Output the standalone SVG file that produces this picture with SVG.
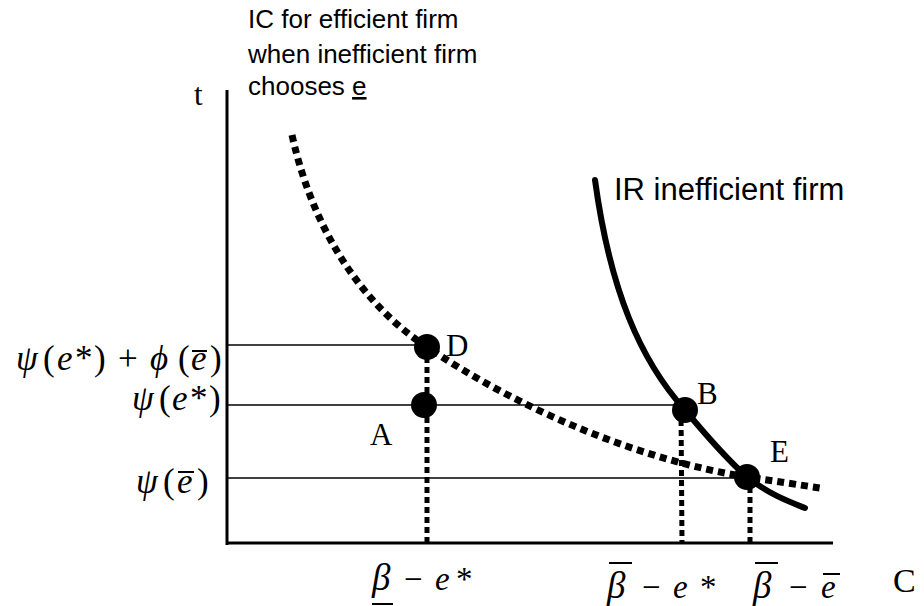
<svg xmlns="http://www.w3.org/2000/svg" width="924" height="606" viewBox="0 0 924 606">
<style>
.sans{font-family:"Liberation Sans",Arial,sans-serif;font-size:26px;fill:#000}
.serif{font-family:"Liberation Serif","Times New Roman",serif;font-size:31px;fill:#000}
.math{font-family:"Liberation Serif","Times New Roman",serif;font-size:35px;fill:#000}
.xm{font-family:"Liberation Serif","Times New Roman",serif;font-size:33px;fill:#000}
.it{font-style:italic}
.axis{stroke:#000;stroke-width:3;fill:none}
.guide{stroke:#000;stroke-width:1.5;fill:none}
.drop{stroke:#000;stroke-width:5;stroke-dasharray:6 4;fill:none}
.bar{stroke:#000;stroke-width:2}
</style>
<rect width="924" height="606" fill="#fff"/>
<g id="axes">
<line class="axis" x1="227" y1="90" x2="227" y2="545"/>
<line class="axis" x1="226" y1="543" x2="833" y2="543"/>
<text class="serif" x="194" y="105">t</text>
<text class="serif" x="893" y="592" style="font-size:34px">C</text>
</g>
<g id="connectors">
<line class="guide" x1="227" y1="345" x2="427" y2="345"/>
<line class="guide" x1="227" y1="405" x2="685" y2="405"/>
<line class="guide" x1="227" y1="478" x2="747" y2="478"/>
<line class="drop" x1="427" y1="347" x2="427" y2="543"/>
<line class="drop" x1="681" y1="410" x2="682" y2="543"/>
<line class="drop" x1="750" y1="477" x2="750" y2="543"/>
</g>
<g id="ic-curve">
<path d="M292,135 C315,240 370,310 427,347 C520,410 640,460 747,477 C775,481 800,485 820,488" fill="none" stroke="#000" stroke-width="7" stroke-dasharray="7 5"/>
<text class="sans" x="248" y="28">IC for efficient firm</text>
<text class="sans" x="248" y="63">when inefficient firm</text>
<text class="sans" x="248" y="95">chooses <tspan text-decoration="underline">e</tspan></text>
</g>
<g id="ir-curve">
<path d="M595,180 C610,290 640,360 685,410 C710,440 730,462 747,477 C770,495 790,502 805,508" fill="none" stroke="#000" stroke-width="6" stroke-linecap="round"/>
<text class="sans" x="614" y="200" style="font-size:31px">IR inefficient firm</text>
</g>
<g id="point-D">
<circle cx="427" cy="347" r="13"/>
<text class="serif" x="446" y="356">D</text>
</g>
<g id="point-A">
<circle cx="424" cy="405" r="13"/>
<text class="serif" x="370" y="445">A</text>
</g>
<g id="point-B">
<circle cx="685" cy="410" r="13"/>
<text class="serif" x="697" y="404">B</text>
</g>
<g id="point-E">
<circle cx="747" cy="477" r="13"/>
<text class="serif" x="770" y="462">E</text>
</g>
<g id="y-labels">
<text class="math" y="370"><tspan class="it" x="16">ψ</tspan><tspan x="43">(</tspan><tspan class="it" x="57">e</tspan><tspan x="75">*</tspan><tspan x="94">)</tspan><tspan x="118">+</tspan><tspan class="it" x="150">ϕ</tspan><tspan x="178">(</tspan><tspan class="it" x="191">e</tspan><tspan x="210">)</tspan></text>
<line class="bar" x1="192" y1="351" x2="207" y2="351"/>
<text class="math" y="410"><tspan class="it" x="132">ψ</tspan><tspan x="159">(</tspan><tspan class="it" x="172">e</tspan><tspan x="190">*</tspan><tspan x="209">)</tspan></text>
<text class="math" y="493"><tspan class="it" x="136">ψ</tspan><tspan x="163">(</tspan><tspan class="it" x="177">e</tspan><tspan x="197">)</tspan></text>
<line class="bar" x1="178" y1="472" x2="194" y2="472"/>
</g>
<g id="x-labels">
<text class="xm" y="590"><tspan class="it" x="372" style="font-size:37px">β</tspan><tspan x="404">−</tspan><tspan class="it" x="435">e</tspan><tspan x="456">*</tspan></text>
<line class="bar" x1="372" y1="604" x2="393" y2="604"/>
<text class="xm" y="598"><tspan class="it" x="607" style="font-size:37px">β</tspan><tspan x="642">−</tspan><tspan class="it" x="673">e</tspan><tspan x="700">*</tspan></text>
<line class="bar" x1="609" y1="563" x2="632" y2="563"/>
<text class="xm" y="598"><tspan class="it" x="753" style="font-size:37px">β</tspan><tspan x="789">−</tspan><tspan class="it" x="821">e</tspan></text>
<line class="bar" x1="755" y1="563" x2="778" y2="563"/>
<line class="bar" x1="823" y1="574" x2="840" y2="574"/>
</g>
</svg>
